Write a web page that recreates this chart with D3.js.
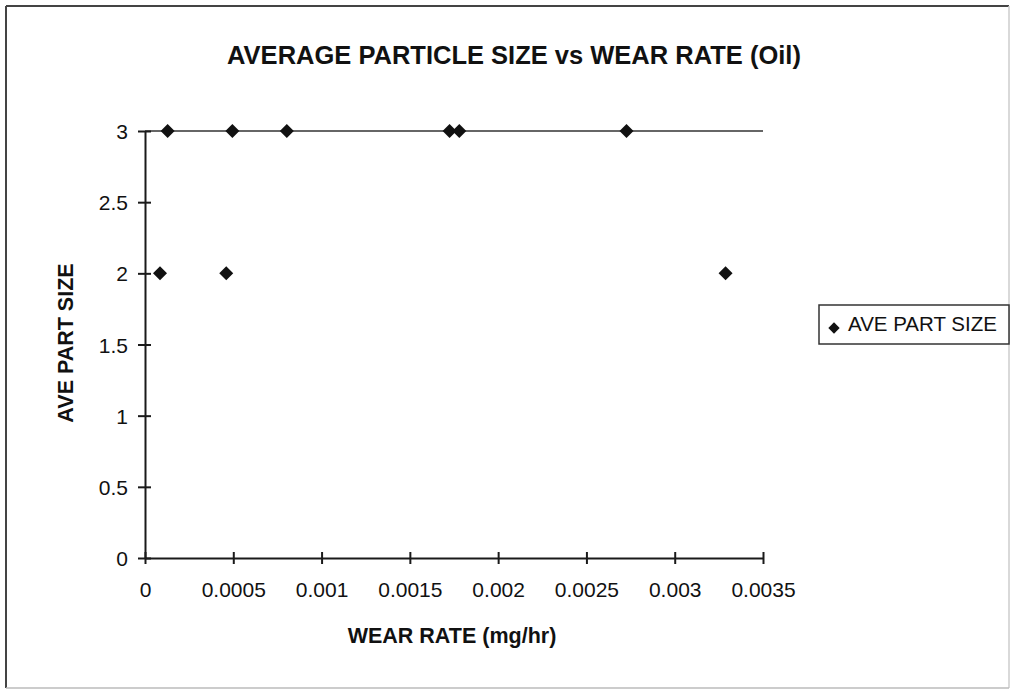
<html>
    <head>
        <meta charset="utf-8"/>
        <title>Average Particle Size vs Wear Rate</title>
        <script src="https://cdn.jsdelivr.net/npm/d3@7"></script>
        <style type="text/css">
            body { margin: 0; background: #fff; }
            text { font-family: "Liberation Sans", Arial, sans-serif; fill: #111; }
            .axis path, .axis line { stroke: #1a1a1a; stroke-width: 2; fill: none; }
            .axis text { font-size: 21px; }
        </style>
    </head>
    <body>
        <div id="chart"></div>
        <script type="text/javascript">
            // data
            var wearRate = [0.000085, 0.000128, 0.00046, 0.000495, 0.000803, 0.001725, 0.00178, 0.002727, 0.003288];
            var partSize = [2, 3, 2, 3, 3, 3, 3, 3, 2];
            var xTicks = [0, 0.0005, 0.001, 0.0015, 0.002, 0.0025, 0.003, 0.0035];
            var yTicks = [0, 0.5, 1, 1.5, 2, 2.5, 3];
            var seriesName = "AVE PART SIZE";

            var w = 1018, h = 692;
            // plot area edges (note: "top" is reserved by window)
            var plotL = 145, plotR = 763, plotT = 131, plotB = 558;

            var svg = d3.select("#chart").append("svg")
                        .attr("width", w)
                        .attr("height", h);

            // outer frame (top/left darker, like the scan)
            svg.append("line").attr("x1", 6).attr("y1", 6).attr("x2", 1009).attr("y2", 6)
                .attr("stroke", "#444").attr("stroke-width", 2);
            svg.append("line").attr("x1", 6).attr("y1", 6).attr("x2", 6).attr("y2", 688)
                .attr("stroke", "#444").attr("stroke-width", 2);
            svg.append("line").attr("x1", 1009).attr("y1", 6).attr("x2", 1009).attr("y2", 688)
                .attr("stroke", "#ccc").attr("stroke-width", 1.5);
            svg.append("line").attr("x1", 6).attr("y1", 688).attr("x2", 1009).attr("y2", 688)
                .attr("stroke", "#bbb").attr("stroke-width", 1.5);

            var xScale = d3.scaleLinear().domain([0, 0.0035]).range([plotL, plotR]);
            var yScale = d3.scaleLinear().domain([0, 3]).range([plotB, plotT]);

            // line along the top of the plot area (value 3)
            svg.append("line")
                .attr("x1", xScale(0)).attr("x2", xScale(0.0035))
                .attr("y1", yScale(3)).attr("y2", yScale(3))
                .attr("stroke", "#333").attr("stroke-width", 1.6);

            var xAxis = d3.axisBottom(xScale)
                            .tickValues(xTicks)
                            .tickSizeInner(6).tickSizeOuter(0).tickPadding(14)
                            .tickFormat(function(d) { return d === 0 ? "0" : String(+d.toFixed(4)); });
            var yAxis = d3.axisLeft(yScale)
                            .tickValues(yTicks)
                            .tickSizeInner(6).tickSizeOuter(0).tickPadding(11)
                            .tickFormat(function(d) { return String(d); });

            var gx = svg.append("g").attr("class", "axis")
                .attr("transform", "translate(0," + plotB + ")")
                .call(xAxis);
            gx.selectAll(".tick line").attr("y1", -6).attr("y2", 6).attr("stroke-width", 1.5);
            gx.selectAll(".tick text").attr("y", 39).attr("dy", 0);

            var gy = svg.append("g").attr("class", "axis")
                .attr("transform", "translate(" + plotL + ",0)")
                .call(yAxis);
            gy.selectAll(".tick line").attr("x1", -7).attr("x2", 6).attr("stroke-width", 1.5);
            gy.selectAll(".tick text").attr("x", -17).attr("dy", "0.36em");

            // points
            var diamond = d3.symbol().type(d3.symbolSquare).size(98);
            svg.selectAll("path.pt")
                .data(d3.range(wearRate.length))
                .enter().append("path")
                .attr("class", "pt")
                .attr("d", diamond)
                .attr("transform", function(i) {
                    return "translate(" + xScale(wearRate[i]) + "," + yScale(partSize[i]) + ") rotate(45)";
                })
                .attr("fill", "#111");

            // title
            svg.append("text")
                .attr("x", 514).attr("y", 64)
                .attr("text-anchor", "middle")
                .style("font-size", "25.5px").style("font-weight", "bold")
                .text("AVERAGE PARTICLE SIZE vs WEAR RATE (Oil)");

            // axis titles
            svg.append("text")
                .attr("text-anchor", "middle")
                .attr("transform", "translate(73,343) rotate(-90)")
                .style("font-size", "21.5px").style("font-weight", "bold")
                .text("AVE PART SIZE");
            svg.append("text")
                .attr("x", 452).attr("y", 643)
                .attr("text-anchor", "middle")
                .style("font-size", "21.5px").style("font-weight", "bold")
                .text("WEAR RATE (mg/hr)");

            // legend
            var lg = svg.append("g");
            lg.append("rect")
                .attr("x", 819).attr("y", 305).attr("width", 190).attr("height", 39)
                .attr("fill", "#fff").attr("stroke", "#333").attr("stroke-width", 1.5);
            lg.append("path")
                .attr("d", d3.symbol().type(d3.symbolSquare).size(64))
                .attr("transform", "translate(834,328) rotate(45)")
                .attr("fill", "#111");
            lg.append("text")
                .attr("x", 848).attr("y", 331)
                .style("font-size", "20.5px")
                .text(seriesName);
        </script>
    </body>
</html>
